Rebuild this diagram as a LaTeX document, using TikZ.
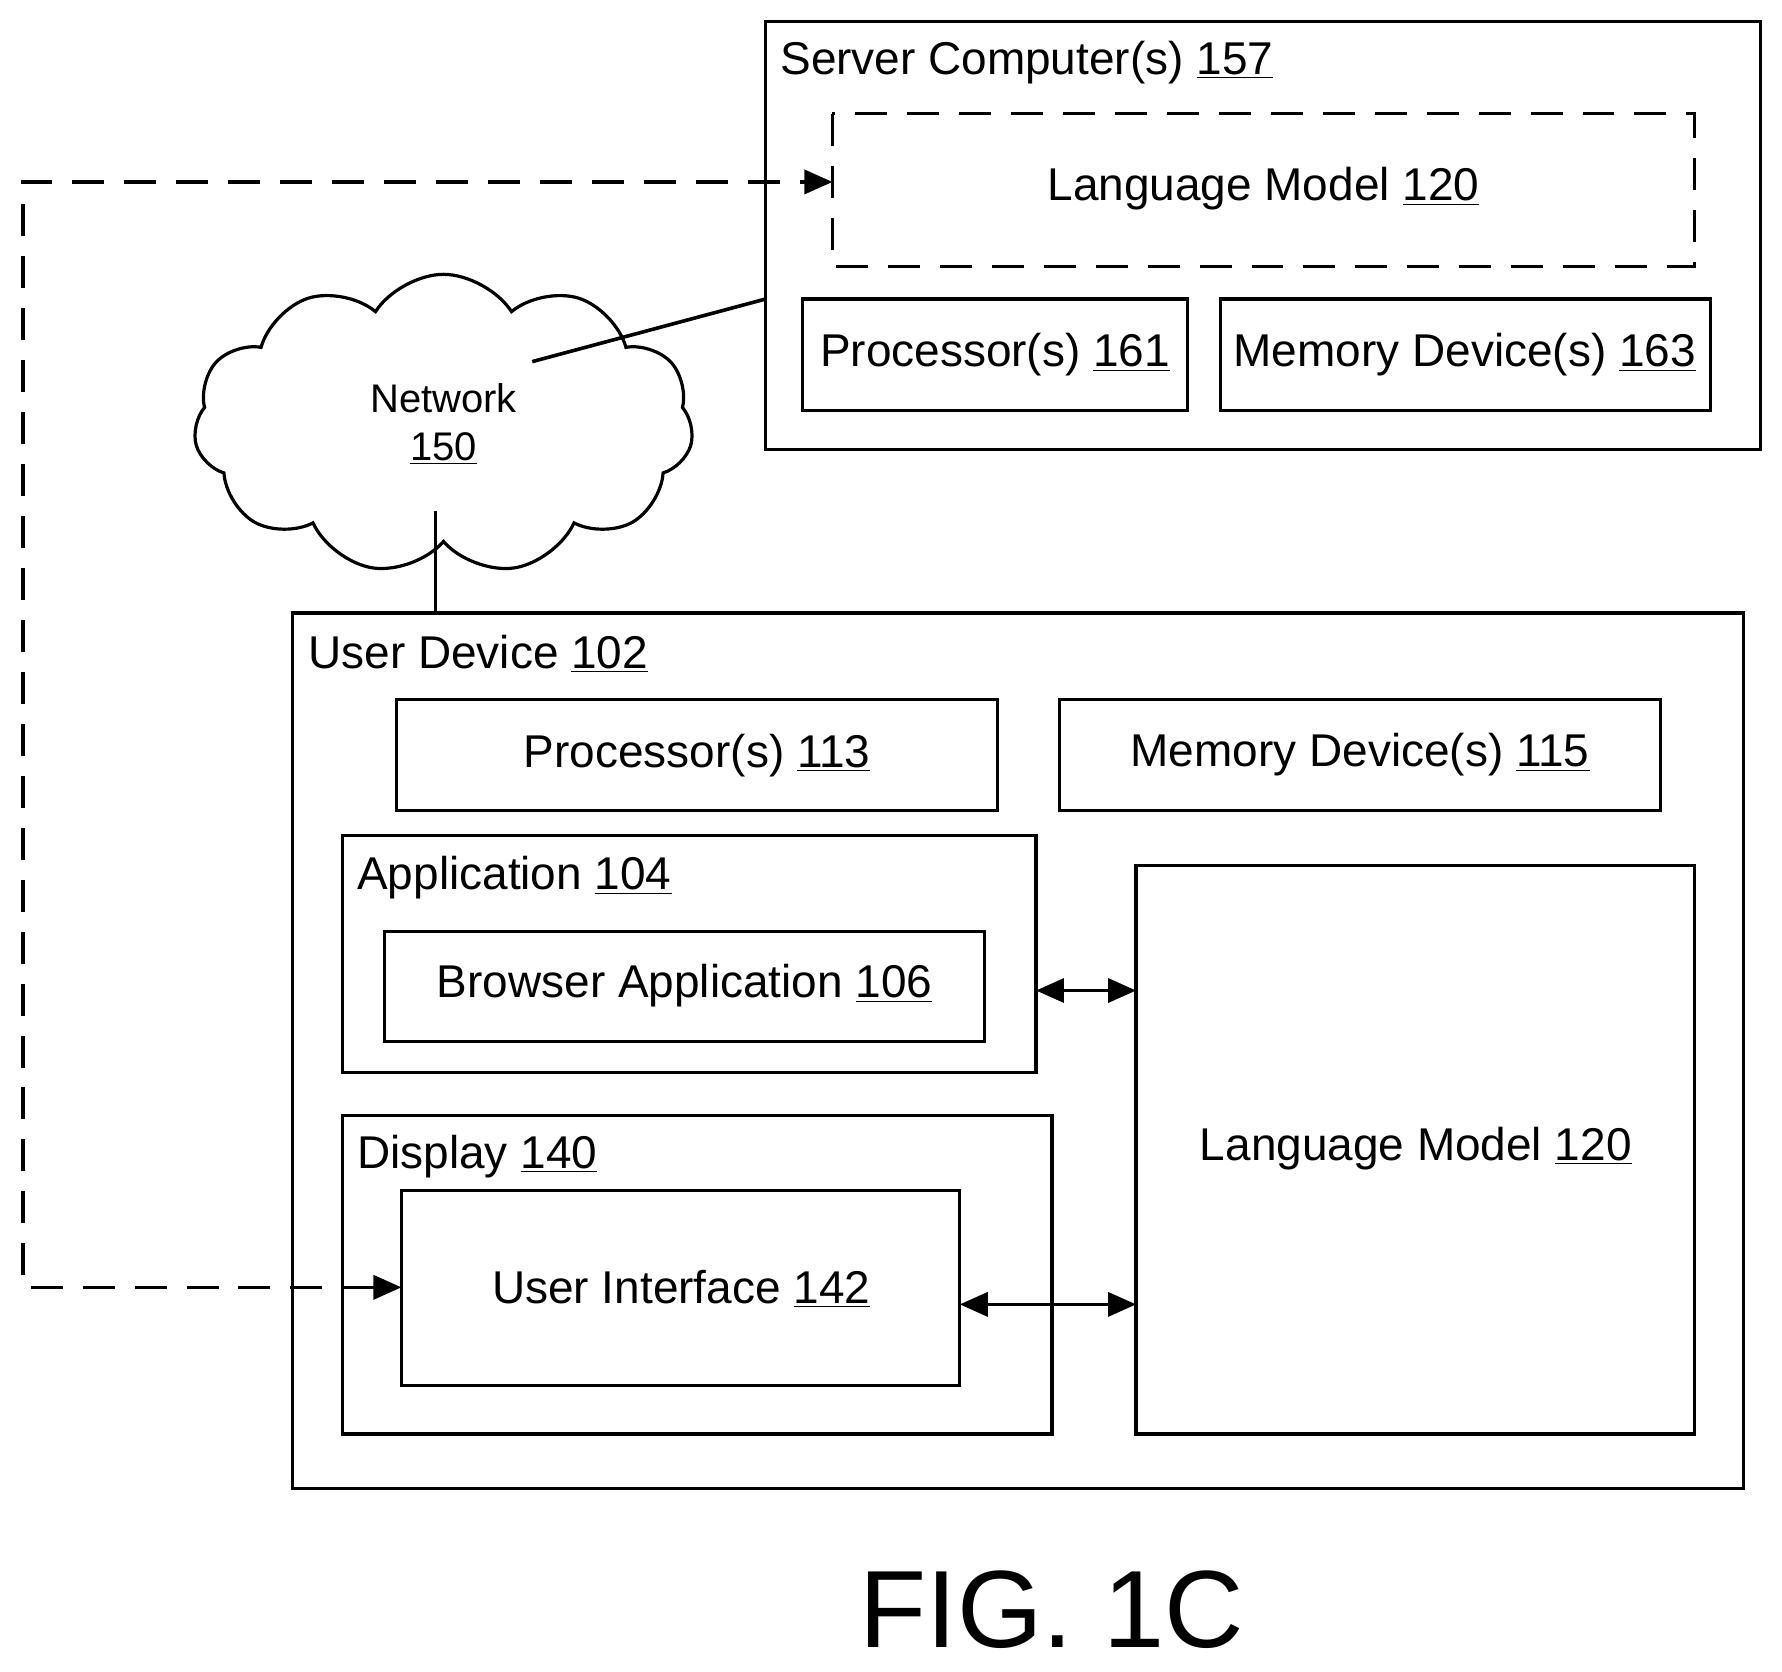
\documentclass[tikz,border=0pt]{standalone}
\usepackage{fontspec}
\setmainfont{Liberation Sans}
\usetikzlibrary{shapes.symbols,arrows.meta}

\def\un#1{\underline{#1}}

\tikzset{
  box/.style={draw, line width=1.6pt, inner sep=0pt},
  lbl/.style={anchor=west, font=\fontsize{23}{26}\selectfont},
  txt/.style={font=\fontsize{23}{26}\selectfont},
  con/.style={line width=1.8pt},
  dbl/.style={line width=1.8pt, {Triangle[length=14pt,width=12pt]}-{Triangle[length=14pt,width=12pt]}},
  dsh/.style={line width=1.8pt, dash pattern=on 16pt off 10pt}
}

\begin{document}
\begin{tikzpicture}[x=0.02cm, y=-0.02cm]
      \useasboundingbox (0,0) rectangle (1567,1470);
      % server side
      \draw[box] (673,19) rectangle (1548,395);
      \node[lbl] (srv) at (680,55) {Server Computer(s) \un{157}};
      \draw[box, dsh, line width=1.6pt] (732,100) rectangle (1490,234);
      \node[txt] (lms) at (1111,166) {Language Model \un{120}};
      \coordinate (lmsw) at (732,160);
      \draw[box] (706,263) rectangle (1044,361);
      \node[txt] (p161) at (875,312) {Processor(s) \un{161}};
      \draw[box] (1073,263) rectangle (1504,361);
      \node[txt] (m163) at (1288,312) {Memory Device(s) \un{163}};
      \coordinate (srvw) at (673,263);
      % network
      \node[cloud, draw, line width=1.6pt, cloud puffs=11, cloud puff arc=115, aspect=1.65,
            minimum width=250, minimum height=150, align=center,
            font=\fontsize{20}{24}\selectfont] (net) at (390,373) {Network\\\un{150}};
      \coordinate (netne) at (468,318);
      \coordinate (netb) at (383,449);
      \coordinate (devt) at (383,539);
      \draw[con] (netne) -- (srvw);
      \draw[con] (netb) -- (devt);
      % user device
      \draw[box] (257,539) rectangle (1533,1309);
      \node[lbl] (dev) at (265,575) {User Device \un{102}};
      \draw[box] (349,615) rectangle (877,713);
      \node[txt] (p113) at (613,664) {Processor(s) \un{113}};
      \draw[box] (932,615) rectangle (1460,713);
      \node[txt] (m115) at (1196,664) {Memory Device(s) \un{115}};
      \draw[box] (301,735) rectangle (911,943);
      \node[lbl] (app) at (308,772) {Application \un{104}};
      \coordinate (appe) at (911,871);
      \draw[box] (338,819) rectangle (866,916);
      \node[txt] (brw) at (602,867) {Browser Application \un{106}};
      \draw[box] (301,981) rectangle (925,1261);
      \node[lbl] (dsp) at (308,1017) {Display \un{140}};
      \draw[box] (353,1047) rectangle (844,1218);
      \node[txt] (ui) at (599,1133) {User Interface \un{142}};
      \coordinate (uie) at (844,1147);
      \coordinate (uiw) at (353,1132);
      \draw[box] (999,761) rectangle (1490,1261);
      \node[txt] (lmd) at (1245,1010) {Language Model \un{120}};
      \coordinate (lmda) at (999,871);
      \coordinate (lmdb) at (999,1147);
      % connectors
      \draw[dbl] (appe) -- (lmda);
      \draw[dbl] (uie) -- (lmdb);
      \draw[dsh, {Triangle[length=14pt,width=12pt]}-{Triangle[length=14pt,width=12pt]}]
            (uiw) -- (20,1132) -- (20,160) -- (lmsw);
      \node[font=\fontsize{55}{60}\selectfont] (fig) at (925,1415) {FIG. 1C};
\end{tikzpicture}
\end{document}
